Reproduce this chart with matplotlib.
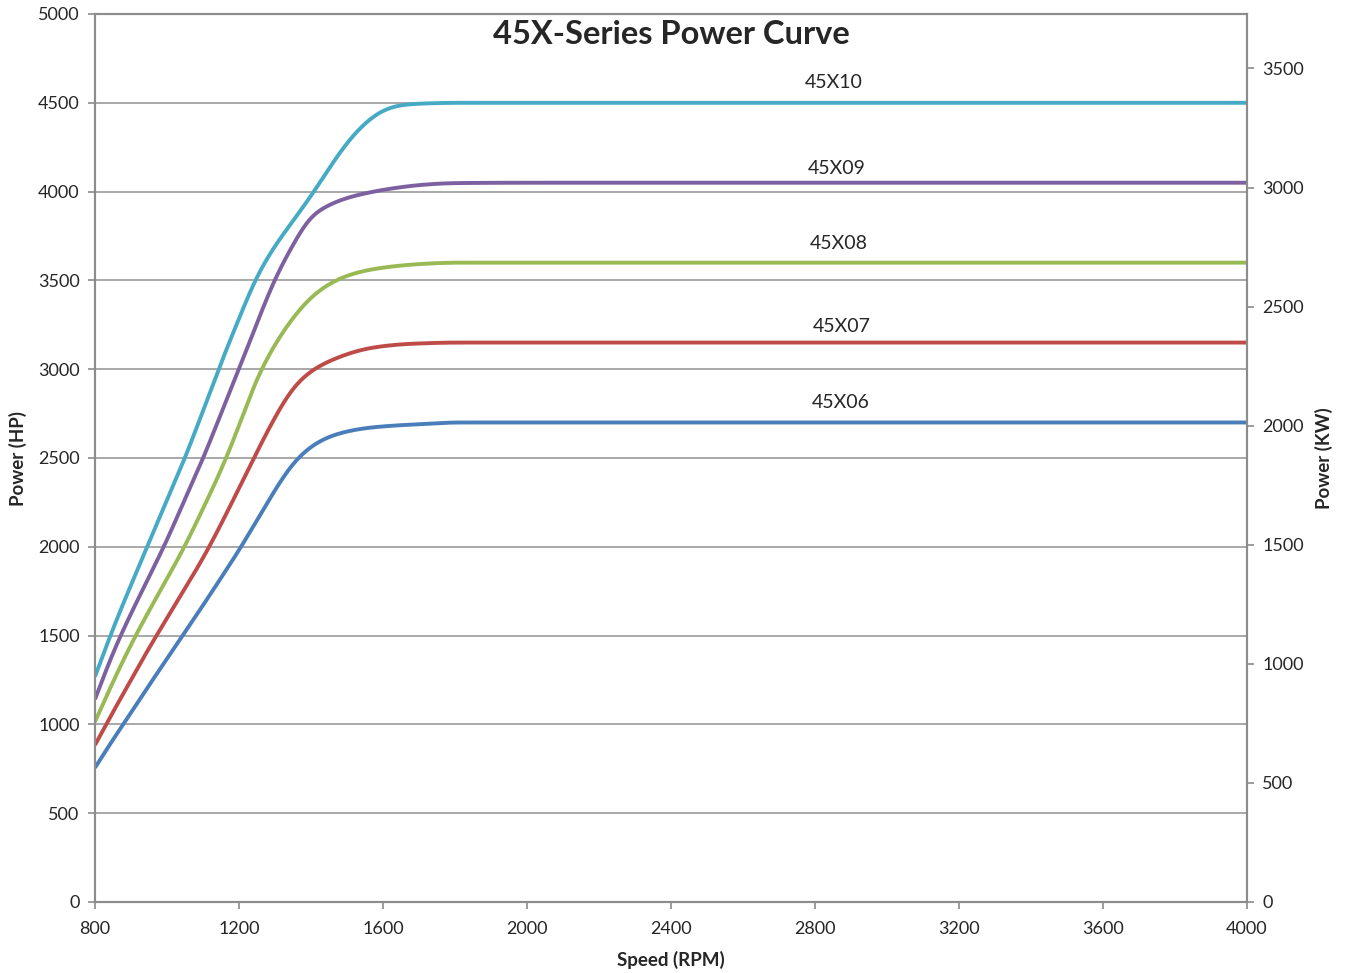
import matplotlib
matplotlib.use("Agg")
import matplotlib.pyplot as plt
import numpy as np

# ---- data ----
rpm = [800, 850, 900, 950, 1000, 1050, 1100, 1150, 1200, 1250, 1300, 1350, 1400,
       1450, 1500, 1550, 1600, 1650, 1700, 1800, 2000, 2400, 2800, 3200, 3600, 4000]
hp_45x10 = [1269, 1540, 1785, 2025, 2262, 2500, 2765, 3035, 3285, 3525, 3695, 3835, 3975,
            4130, 4275, 4385, 4458, 4488, 4495, 4500, 4500, 4500, 4500, 4500, 4500, 4500]
hp_45x09 = [1141, 1405, 1625, 1830, 2037, 2270, 2495, 2750, 3000, 3260, 3510, 3700, 3862,
            3925, 3965, 3990, 4010, 4025, 4037, 4048, 4050, 4050, 4050, 4050, 4050, 4050]
hp_45x08 = [1015, 1240, 1450, 1640, 1820, 2005, 2215, 2430, 2680, 2950, 3140, 3290, 3405,
            3480, 3527, 3555, 3572, 3584, 3592, 3600, 3600, 3600, 3600, 3600, 3600, 3600]
hp_45x07 = [884, 1070, 1250, 1430, 1598, 1766, 1935, 2126, 2330, 2535, 2730, 2895, 2990,
            3045, 3085, 3114, 3130, 3140, 3145, 3150, 3150, 3150, 3150, 3150, 3150, 3150]
hp_45x06 = [756, 915, 1065, 1220, 1370, 1520, 1670, 1825, 1980, 2150, 2320, 2470, 2565,
            2620, 2650, 2668, 2678, 2685, 2690, 2700, 2700, 2700, 2700, 2700, 2700, 2700]
series_names = ["45X10", "45X09", "45X08", "45X07", "45X06"]
series_vals = [hp_45x10, hp_45x09, hp_45x08, hp_45x07, hp_45x06]
series_colors = ["#46AAC5", "#7D60A0", "#98B954", "#BE4B48", "#4A7EBB"]
label_pos = [(2853, 4615), (2860, 4130), (2866, 3710), (2875, 3240), (2872, 2815)]

x_ticks = [800, 1200, 1600, 2000, 2400, 2800, 3200, 3600, 4000]
hp_ticks = [0, 500, 1000, 1500, 2000, 2500, 3000, 3500, 4000, 4500, 5000]
kw_ticks = [0, 500, 1000, 1500, 2000, 2500, 3000, 3500]
HP_TO_KW = 0.7457

FONT = ["Lato", "DejaVu Sans"]
plt.rcParams['font.family'] = FONT
TXT = "#262626"


def pchip(x, y, xs):
    x = np.array(x, float); y = np.array(y, float)
    h = np.diff(x); d = np.diff(y) / h
    m = np.zeros_like(y)
    for i in range(1, len(x) - 1):
        if d[i-1] * d[i] <= 0:
            m[i] = 0
        else:
            w1 = 2*h[i] + h[i-1]; w2 = h[i] + 2*h[i-1]
            m[i] = (w1 + w2) / (w1/d[i-1] + w2/d[i])
    m[0] = d[0]; m[-1] = d[-1]
    idx = np.clip(np.searchsorted(x, xs) - 1, 0, len(x) - 2)
    t = (xs - x[idx]) / h[idx]
    h00 = 2*t**3 - 3*t**2 + 1; h10 = t**3 - 2*t**2 + t
    h01 = -2*t**3 + 3*t**2; h11 = t**3 - t**2
    return h00*y[idx] + h10*h[idx]*m[idx] + h01*y[idx+1] + h11*h[idx]*m[idx+1]


def smooth_curve(x, y, xs, sigma=22.0):
    ys = pchip(x, y, xs)
    step = xs[1] - xs[0]
    n = int(4 * sigma / step)
    # pad with linear extrapolation on both ends
    sl0 = (ys[1] - ys[0]); sl1 = (ys[-1] - ys[-2])
    left = ys[0] - sl0 * np.arange(n, 0, -1)
    right = ys[-1] + sl1 * np.arange(1, n + 1)
    padded = np.concatenate([left, ys, right])
    k = np.arange(-n, n + 1) * step
    w = np.exp(-0.5 * (k / sigma) ** 2); w /= w.sum()
    return np.convolve(padded, w, mode='valid')


fig = plt.figure(figsize=(13.45, 9.73), dpi=100)
ax = fig.add_axes([95/1345, 71/973, 1152/1345, 888/973])

xs = np.linspace(800, 4000, 3201)
for name, vals, col in zip(series_names, series_vals, series_colors):
    ax.plot(xs, smooth_curve(rpm, vals, xs), color=col, lw=2.8, solid_capstyle='butt', zorder=3)

for name, (lx, ly) in zip(series_names, label_pos):
    ax.text(lx, ly, name, ha='center', va='center', fontsize=14, color=TXT)

ax.set_xlim(800, 4000)
ax.set_ylim(0, 5000)
ax.set_xticks(x_ticks)
ax.set_yticks(hp_ticks)
ax.grid(axis='y', color='#9a9a9a', lw=1.2, zorder=1)
ax.tick_params(axis='both', direction='out', length=5, width=1.2, color='#8c8c8c',
               labelsize=13, labelcolor=TXT)
ax.tick_params(axis='x', pad=9)
ax.tick_params(axis='y', pad=6)
for s in ax.spines.values():
    s.set_color('#8c8c8c'); s.set_linewidth(1.5)

ax2 = ax.twinx()
ax2.set_ylim(0, 5000 * HP_TO_KW)
ax2.set_yticks(kw_ticks)
ax2.tick_params(axis='y', direction='out', length=5, width=1.2, color='#8c8c8c',
                labelsize=13, labelcolor=TXT, pad=6)
for s in ax2.spines.values():
    s.set_color('#8c8c8c'); s.set_linewidth(1.5)

ax.set_title("45X-Series Power Curve", fontsize=23.5, fontweight='bold', color=TXT,
             y=0.968, va='center')
ax.set_xlabel("Speed (RPM)", fontsize=13.5, fontweight='bold', color=TXT)
ax.set_ylabel("Power (HP)", fontsize=13.5, fontweight='bold', color=TXT)
ax2.set_ylabel("Power (KW)", fontsize=13.5, fontweight='bold', color=TXT, rotation=90)
ax.xaxis.set_label_coords(0.5, -0.0655)
ax.xaxis.label.set_va('center')
ax.yaxis.set_label_coords(-0.0668, 0.5)
ax.yaxis.label.set_va('center')
ax2.yaxis.set_label_coords(1.0668, 0.5)
ax2.yaxis.label.set_va('center')

fig.savefig("out.png", dpi=100)
